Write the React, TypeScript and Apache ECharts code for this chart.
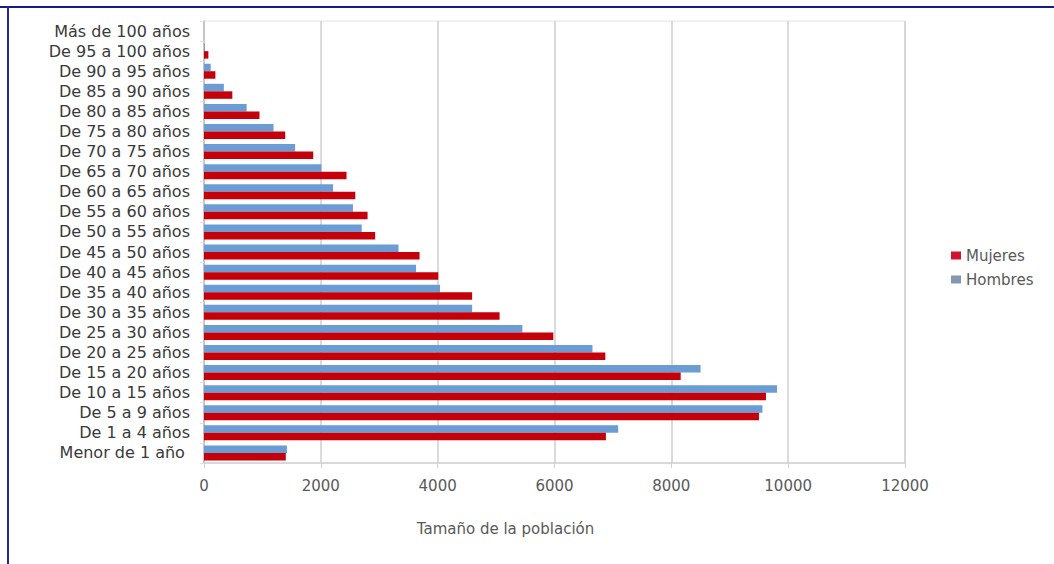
import React, { useEffect, useRef } from "react";
import * as echarts from "echarts";

// Age groups, listed from the bottom of the axis upwards
const ageGroups = [
  "Menor de 1 año ",
  "De 1 a 4 años",
  "De 5 a 9 años",
  "De 10 a 15 años",
  "De 15 a 20 años",
  "De 20 a 25 años",
  "De 25 a 30 años",
  "De 30 a 35 años",
  "De 35 a 40 años",
  "De 40 a 45 años",
  "De 45 a 50 años",
  "De 50 a 55 años",
  "De 55 a 60 años",
  "De 60 a 65 años",
  "De 65 a 70 años",
  "De 70 a 75 años",
  "De 75 a 80 años",
  "De 80 a 85 años",
  "De 85 a 90 años",
  "De 90 a 95 años",
  "De 95 a 100 años",
  "Más de 100 años",
];

const hombres = [
  1420, 7090, 9560, 9810, 8500, 6650, 5450, 4590, 4040, 3630, 3330, 2700, 2550,
  2210, 2010, 1560, 1190, 730, 340, 115, 15, 0,
];

const mujeres = [
  1400, 6880, 9500, 9620, 8160, 6870, 5980, 5060, 4590, 4010, 3690, 2930, 2800,
  2590, 2440, 1870, 1390, 950, 485, 195, 75, 0,
];

const xTicks = { min: 0, max: 12000, interval: 2000 };

const FONT = "'DejaVu Sans', 'Liberation Sans', sans-serif";

export default function App() {
  const ref = useRef<HTMLDivElement>(null);

  useEffect(() => {
    document.body.style.margin = "0";
    if (!ref.current) return;
    const chart = echarts.init(ref.current, undefined, { renderer: "svg" });
    chart.setOption({
      animation: false,
      backgroundColor: "#ffffff",
      grid: {
        left: 204,
        right: 149,
        top: 21,
        bottom: 101,
        show: true,
        borderColor: "#e2e2e2",
        borderWidth: 1,
      },
      legend: {
        orient: "vertical",
        left: 946,
        top: 243,
        itemWidth: 10,
        itemHeight: 8,
        itemGap: 9,
        icon: "rect",
        textStyle: { fontFamily: FONT, fontSize: 15, color: "#595959" },
        data: [
          { name: "Mujeres", itemStyle: { color: "#d0122b" } },
          { name: "Hombres", itemStyle: { color: "#8598b2" } },
        ],
      },
      xAxis: {
        type: "value",
        min: xTicks.min,
        max: xTicks.max,
        interval: xTicks.interval,
        name: "Tamaño de la población",
        nameLocation: "middle",
        nameGap: 58,
        nameTextStyle: {
          fontFamily: FONT,
          fontSize: 15,
          color: "#595959",
          padding: [0, 98, 0, 0],
        },
        axisLine: { show: true, lineStyle: { color: "#d0d0d0", width: 1.5 } },
        axisTick: { show: true, length: 5, lineStyle: { color: "#d0d0d0" } },
        axisLabel: {
          fontFamily: FONT,
          fontSize: 15,
          color: "#595959",
          margin: 15,
          formatter: (v: number) => String(v),
        },
        splitLine: { show: true, lineStyle: { color: "#cfcfcf", width: 1.5 } },
      },
      yAxis: {
        type: "category",
        data: ageGroups,
        axisLine: { show: true, lineStyle: { color: "#bfbfbf", width: 1.5 } },
        axisTick: { show: true, length: 4, interval: 0, lineStyle: { color: "#e0e0e0" } },
        axisLabel: {
          fontFamily: FONT,
          fontSize: 16,
          color: "#3a3a3a",
          margin: 14,
          interval: 0,
        },
        splitLine: { show: false },
      },
      series: [
        {
          name: "Hombres",
          type: "bar",
          data: hombres,
          barWidth: 7.5,
          barGap: "0%",
          itemStyle: { color: "#6b9dd4" },
        },
        {
          name: "Mujeres",
          type: "bar",
          data: mujeres,
          barWidth: 7.5,
          barGap: "0%",
          itemStyle: { color: "#c4000b" },
        },
      ],
      graphic: [
        {
          type: "line",
          shape: { x1: 0, y1: 7, x2: 1054, y2: 7 },
          style: { stroke: "#1a1a86", lineWidth: 2 },
        },
        {
          type: "line",
          shape: { x1: 8, y1: 6, x2: 8, y2: 564 },
          style: { stroke: "#2424a6", lineWidth: 2 },
        },
      ],
    });
    return () => chart.dispose();
  }, []);

  return <div ref={ref} style={{ width: 1054, height: 564 }} />;
}
